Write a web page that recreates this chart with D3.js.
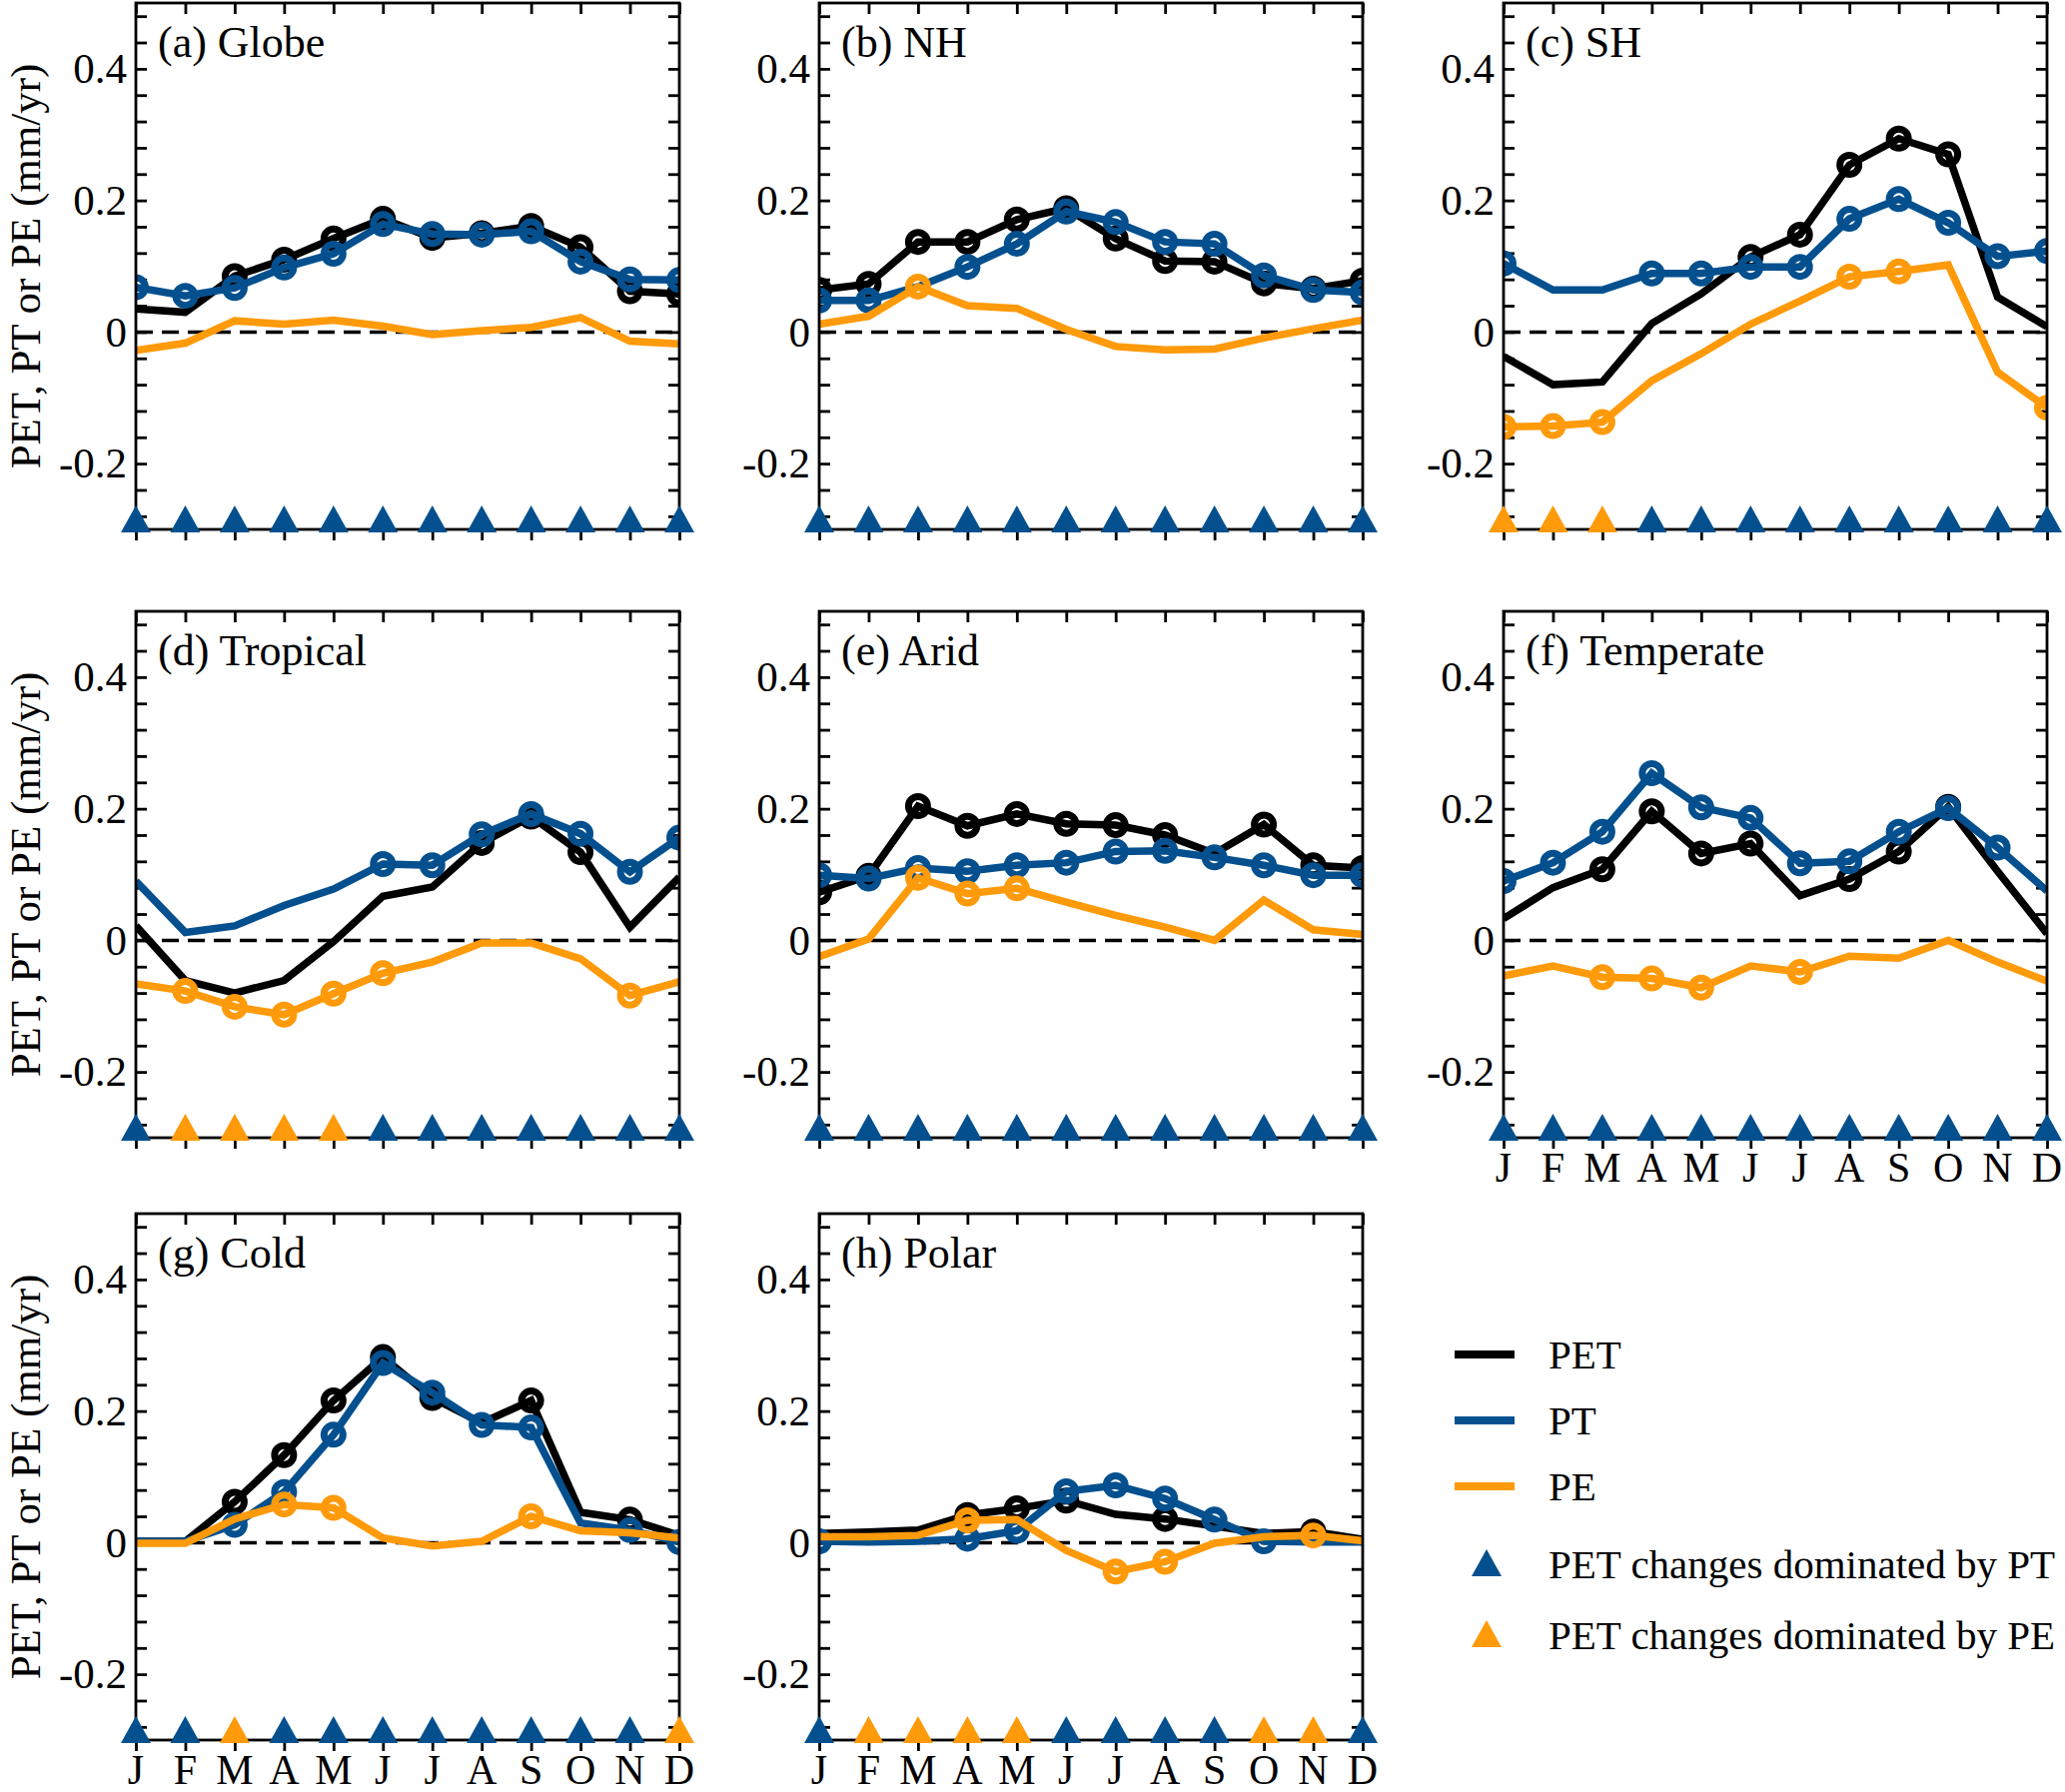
<!DOCTYPE html>
<html>
<head>
<meta charset="utf-8">
<script src="https://cdn.jsdelivr.net/npm/d3@7"></script>
<style>
  html,body{margin:0;padding:0;background:#fff;}
  svg{display:block;}
  text{font-family:"Liberation Serif","Times New Roman",serif;fill:#000;}
</style>
</head>
<body>
<svg id="chart" width="2067" height="1794"></svg>
<script>
// ---------------- DATA ----------------
const months = ["J","F","M","A","M","J","J","A","S","O","N","D"];
const panelTitles = ["(a) Globe","(b) NH","(c) SH","(d) Tropical","(e) Arid","(f) Temperate","(g) Cold","(h) Polar"];
const yTickLabels = [-0.2, 0, 0.2, 0.4];
const legendLabels = ["PET","PT","PE","PET changes dominated by PT","PET changes dominated by PE"];

// (a) Globe
const petGlobe = [0.035,0.030,0.085,0.110,0.142,0.172,0.143,0.150,0.161,0.129,0.062,0.058];
const ptGlobe  = [0.068,0.055,0.067,0.098,0.119,0.164,0.149,0.148,0.153,0.107,0.080,0.079];
const peGlobe  = [-0.028,-0.017,0.017,0.012,0.018,0.009,-0.004,0.002,0.007,0.022,-0.014,-0.018];
const petSigGlobe = [0,0,1,1,1,1,1,1,1,1,1,1];
const ptSigGlobe  = [1,1,1,1,1,1,1,1,1,1,1,1];
const peSigGlobe  = [0,0,0,0,0,0,0,0,0,0,0,0];
const domGlobe = ["PT","PT","PT","PT","PT","PT","PT","PT","PT","PT","PT","PT"];

// (b) NH
const petNH = [0.064,0.073,0.137,0.137,0.171,0.188,0.142,0.108,0.107,0.074,0.066,0.078];
const ptNH  = [0.048,0.048,0.069,0.099,0.134,0.183,0.167,0.137,0.134,0.086,0.064,0.060];
const peNH  = [0.012,0.024,0.069,0.040,0.036,0.004,-0.022,-0.027,-0.026,-0.009,0.005,0.018];
const petSigNH = [1,1,1,1,1,1,1,1,1,1,1,1];
const ptSigNH  = [1,1,0,1,1,1,1,1,1,1,1,1];
const peSigNH  = [0,0,1,0,0,0,0,0,0,0,0,0];
const domNH = ["PT","PT","PT","PT","PT","PT","PT","PT","PT","PT","PT","PT"];

// (c) SH
const petSH = [-0.037,-0.080,-0.076,0.013,0.058,0.114,0.148,0.254,0.294,0.270,0.053,0.008];
const ptSH  = [0.104,0.064,0.064,0.089,0.089,0.099,0.099,0.172,0.202,0.166,0.115,0.123];
const peSH  = [-0.144,-0.143,-0.137,-0.074,-0.033,0.012,0.047,0.084,0.092,0.102,-0.061,-0.115];
const petSigSH = [0,0,0,0,0,1,1,1,1,1,0,0];
const ptSigSH  = [1,0,0,1,1,1,1,1,1,1,1,1];
const peSigSH  = [1,1,1,0,0,0,0,1,1,0,0,1];
const domSH = ["PE","PE","PE","PT","PT","PT","PT","PT","PT","PT","PT","PT"];

// (d) Tropical
const petTrop = [0.022,-0.061,-0.080,-0.061,-0.002,0.067,0.081,0.148,0.188,0.134,0.020,0.096];
const ptTrop  = [0.090,0.012,0.022,0.053,0.078,0.116,0.114,0.161,0.192,0.162,0.104,0.156];
const peTrop  = [-0.066,-0.077,-0.101,-0.113,-0.081,-0.050,-0.033,-0.004,-0.004,-0.028,-0.084,-0.063];
const petSigTrop = [0,0,0,0,0,0,0,1,1,1,0,0];
const ptSigTrop  = [0,0,0,0,0,1,1,1,1,1,1,1];
const peSigTrop  = [0,1,1,1,1,1,0,0,0,0,1,0];
const domTrop = ["PT","PE","PE","PE","PE","PT","PT","PT","PT","PT","PT","PT"];

// (e) Arid
const petArid = [0.073,0.098,0.204,0.174,0.192,0.177,0.175,0.160,0.132,0.176,0.114,0.110];
const ptArid  = [0.099,0.094,0.110,0.105,0.114,0.118,0.135,0.136,0.126,0.114,0.099,0.099];
const peArid  = [-0.025,0.002,0.095,0.071,0.079,0.058,0.038,0.020,0.000,0.061,0.016,0.009];
const petSigArid = [1,1,1,1,1,1,1,1,0,1,1,1];
const ptSigArid  = [1,1,1,1,1,1,1,1,1,1,1,1];
const peSigArid  = [0,0,1,1,1,0,0,0,0,0,0,0];
const domArid = ["PT","PT","PT","PT","PT","PT","PT","PT","PT","PT","PT","PT"];

// (f) Temperate
const petTemp = [0.033,0.080,0.108,0.196,0.132,0.147,0.068,0.093,0.135,0.203,0.105,0.010];
const ptTemp  = [0.090,0.118,0.165,0.254,0.202,0.186,0.117,0.120,0.165,0.201,0.141,0.075];
const peTemp  = [-0.054,-0.039,-0.056,-0.058,-0.072,-0.039,-0.048,-0.024,-0.027,0.000,-0.033,-0.062];
const petSigTemp = [0,0,1,1,1,1,0,1,1,1,0,0];
const ptSigTemp  = [1,1,1,1,1,1,1,1,1,1,1,0];
const peSigTemp  = [0,0,1,1,1,0,1,0,0,0,0,0];
const domTemp = ["PT","PT","PT","PT","PT","PT","PT","PT","PT","PT","PT","PT"];

// (g) Cold
const petCold = [0.002,0.002,0.062,0.133,0.216,0.282,0.220,0.182,0.216,0.046,0.035,0.011];
const ptCold  = [0.002,0.002,0.027,0.077,0.164,0.273,0.228,0.179,0.175,0.030,0.019,0.001];
const peCold  = [-0.001,-0.001,0.036,0.058,0.053,0.007,-0.005,0.002,0.040,0.018,0.015,0.007];
const petSigCold = [0,0,1,1,1,1,1,0,1,0,1,0];
const ptSigCold  = [0,0,1,1,1,1,1,1,1,0,1,1];
const peSigCold  = [0,0,0,1,1,0,0,0,1,0,0,0];
const domCold = ["PT","PT","PE","PT","PT","PT","PT","PT","PT","PT","PT","PE"];

// (h) Polar
const petPolar = [0.014,0.016,0.019,0.042,0.052,0.064,0.043,0.036,0.025,0.014,0.017,0.005];
const ptPolar  = [0.002,0.001,0.002,0.006,0.018,0.078,0.087,0.067,0.035,0.002,0.001,0.001];
const pePolar  = [0.009,0.009,0.011,0.034,0.035,-0.012,-0.044,-0.029,-0.001,0.009,0.011,0.003];
const petSigPolar = [0,0,0,1,1,1,0,1,0,0,1,0];
const ptSigPolar  = [1,0,0,1,1,1,1,1,1,1,0,0];
const peSigPolar  = [0,0,0,1,0,0,1,1,0,0,1,0];
const domPolar = ["PT","PE","PE","PE","PE","PT","PT","PT","PT","PE","PE","PT"];

// ---------------- TABLE ----------------
const panels = [
  {pet:petGlobe, pt:ptGlobe, pe:peGlobe, petSig:petSigGlobe, ptSig:ptSigGlobe, peSig:peSigGlobe, dom:domGlobe},
  {pet:petNH, pt:ptNH, pe:peNH, petSig:petSigNH, ptSig:ptSigNH, peSig:peSigNH, dom:domNH},
  {pet:petSH, pt:ptSH, pe:peSH, petSig:petSigSH, ptSig:ptSigSH, peSig:peSigSH, dom:domSH},
  {pet:petTrop, pt:ptTrop, pe:peTrop, petSig:petSigTrop, ptSig:ptSigTrop, peSig:peSigTrop, dom:domTrop},
  {pet:petArid, pt:ptArid, pe:peArid, petSig:petSigArid, ptSig:ptSigArid, peSig:peSigArid, dom:domArid},
  {pet:petTemp, pt:ptTemp, pe:peTemp, petSig:petSigTemp, ptSig:ptSigTemp, peSig:peSigTemp, dom:domTemp},
  {pet:petCold, pt:ptCold, pe:peCold, petSig:petSigCold, ptSig:ptSigCold, peSig:peSigCold, dom:domCold},
  {pet:petPolar, pt:ptPolar, pe:pePolar, petSig:petSigPolar, ptSig:ptSigPolar, peSig:peSigPolar, dom:domPolar}
].map((p,i)=>Object.assign(p,{title:panelTitles[i]}));

// ---------------- STYLE / LAYOUT ----------------
const C = {PET:"#000000", PT:"#04508f", PE:"#ff9a0a"};
const colX = [136, 820, 1505];
const rowY = [3, 612, 1215];
const PW = 544, PH = 527;
const FONT = 42;
const yDomain = [-0.3, 0.5];
const triBase = -0.3;

const svg = d3.select("#chart");
const fmt = v => (Math.abs(v) < 1e-9 ? "0" : (v < 0 ? "-" : "") + Math.abs(v).toFixed(1));
const minorTicks = d3.range(-7, 13).map(k => +(k*0.04).toFixed(2)).filter(v => v > -0.3 && v < 0.5);

panels.forEach((p, i) => {
  const col = i % 3, row = Math.floor(i / 3);
  const g = svg.append("g").attr("transform", `translate(${colX[col]},${rowY[row]})`);
  const x = d3.scaleLinear().domain([0, 11]).range([0, PW]);
  const y = d3.scaleLinear().domain(yDomain).range([PH, 0]);

  const clipId = "clip" + i;
  g.append("clipPath").attr("id", clipId).append("rect")
    .attr("x", 0).attr("y", 0).attr("width", PW).attr("height", PH);

  // y ticks: left (inward) with labels, right (inward)
  const yl = g.append("g").call(d3.axisLeft(y).tickValues(minorTicks).tickSize(-11).tickFormat(""));
  const yr = g.append("g").attr("transform", `translate(${PW},0)`)
    .call(d3.axisRight(y).tickValues(minorTicks).tickSize(-11).tickFormat(""));
  const ylab = g.append("g").call(d3.axisLeft(y).tickValues(yTickLabels).tickSize(0).tickPadding(9).tickFormat(fmt));
  [yl, yr, ylab].forEach(a => { a.select(".domain").remove(); a.selectAll("line").attr("stroke", "#000").attr("stroke-width", 2.8); });
  ylab.selectAll("text").style("font-size", "43px").style("font-family", '"Liberation Serif","Times New Roman",serif');

  // x ticks: top inward, bottom outward
  const xt = g.append("g").call(d3.axisTop(x).tickValues(d3.range(12)).tickSize(-11).tickFormat(""));
  const xb = g.append("g").attr("transform", `translate(0,${PH})`)
    .call(d3.axisBottom(x).tickValues(d3.range(12)).tickSize(11).tickFormat(""));
  [xt, xb].forEach(a => { a.select(".domain").remove(); a.selectAll("line").attr("stroke", "#000").attr("stroke-width", 2.8); });

  // month labels on bottom-most panel of each column
  if (row === 2 || i === 5) {
    g.append("g").selectAll("text").data(months).join("text")
      .attr("x", (d, k) => x(k)).attr("y", PH + 44)
      .attr("text-anchor", "middle").style("font-size", FONT + "px").text(d => d);
  }

  const plot = g.append("g").attr("clip-path", `url(#${clipId})`);
  // zero line
  plot.append("line").attr("x1", 0).attr("x2", PW).attr("y1", y(0)).attr("y2", y(0))
    .attr("stroke", "#000").attr("stroke-width", 3.5).attr("stroke-dasharray", "17,9");

  const line = d3.line().x((d, k) => x(k)).y(d => y(d));
  const series = [["PET", p.pet, p.petSig], ["PT", p.pt, p.ptSig], ["PE", p.pe, p.peSig]];
  series.forEach(([name, vals, sig]) => {
    plot.append("path").datum(vals).attr("d", line)
      .attr("fill", "none").attr("stroke", C[name]).attr("stroke-width", 7.5)
      .attr("stroke-linejoin", "miter");
    plot.append("g").selectAll("circle")
      .data(vals.map((v, k) => ({v, k})).filter(d => sig[d.k]))
      .join("circle")
      .attr("cx", d => x(d.k)).attr("cy", d => y(d.v)).attr("r", 9.5)
      .attr("fill", "none").attr("stroke", C[name]).attr("stroke-width", 7);
  });

  // frame
  g.append("rect").attr("x", 0).attr("y", 0).attr("width", PW).attr("height", PH)
    .attr("fill", "none").attr("stroke", "#000").attr("stroke-width", 2.8);

  // dominance triangles
  g.append("g").selectAll("path").data(p.dom).join("path")
    .attr("transform", (d, k) => `translate(${x(k)},${y(triBase) + 3})`)
    .attr("d", "M0,-27 L15,0 L-15,0 Z")
    .attr("fill", d => C[d]);

  // panel title
  g.append("text").attr("x", 22).attr("y", 54).style("font-size", "44px").text(p.title);

  // y-axis title for left column
  if (col === 0) {
    g.append("text")
      .attr("transform", `translate(${-111},${PH / 2}) rotate(-90)`)
      .attr("text-anchor", "middle").attr("dominant-baseline", "central")
      .style("font-size", "43px").text("PET, PT or PE (mm/yr)");
  }
});

// ---------------- LEGEND ----------------
const lg = svg.append("g");
const lineItems = [["PET", 1356], ["PT", 1422], ["PE", 1488]];
lineItems.forEach(([k, yy], idx) => {
  lg.append("line").attr("x1", 1456).attr("x2", 1516).attr("y1", yy).attr("y2", yy)
    .attr("stroke", C[k]).attr("stroke-width", 8);
  lg.append("text").attr("x", 1550).attr("y", yy).attr("dominant-baseline", "central")
    .style("font-size", "41px").text(legendLabels[idx]);
});
const triItems = [["PT", 1566, 3], ["PE", 1637, 4]];
triItems.forEach(([k, yy, idx]) => {
  lg.append("path").attr("transform", `translate(1488,${yy})`)
    .attr("d", "M0,-15 L15,12 L-15,12 Z").attr("fill", C[k]);
  lg.append("text").attr("x", 1550).attr("y", yy).attr("dominant-baseline", "central")
    .style("font-size", "41px").text(legendLabels[idx]);
});
</script>
</body>
</html>
